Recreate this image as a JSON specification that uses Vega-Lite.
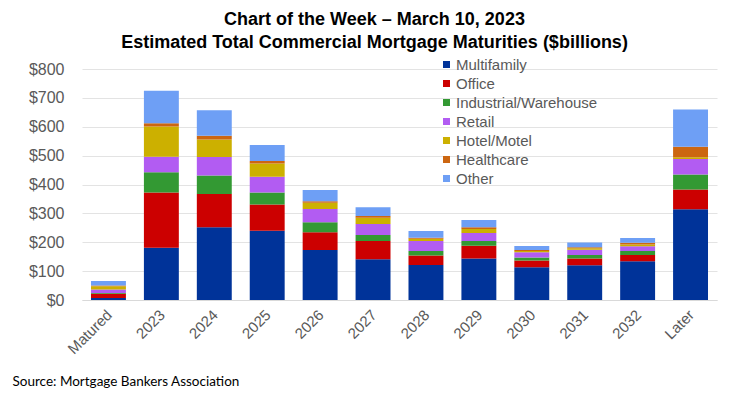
{
  "$schema": "https://vega.github.io/schema/vega-lite/v6.json",
  "width": 635,
  "height": 231,
  "autosize": {"type": "none"},
  "padding": {"left": 82, "top": 69, "right": 14, "bottom": 96},
  "background": "white",
  "title": {
    "text": ["Chart of the Week – March 10, 2023", "Estimated Total Commercial Mortgage Maturities ($billions)"],
    "font": "Liberation Sans",
    "fontSize": 18,
    "fontWeight": "bold",
    "color": "#000000",
    "anchor": "middle",
    "frame": "group",
    "dx": -25,
    "offset": 5,
    "lineHeight": 23
  },
  "data": {
    "values": [
      {"year": "Matured", "type": "Multifamily", "k": 1, "value": 7},
      {"year": "Matured", "type": "Office", "k": 2, "value": 15},
      {"year": "Matured", "type": "Industrial/Warehouse", "k": 3, "value": 2},
      {"year": "Matured", "type": "Retail", "k": 4, "value": 12},
      {"year": "Matured", "type": "Hotel/Motel", "k": 5, "value": 12},
      {"year": "Matured", "type": "Healthcare", "k": 6, "value": 2},
      {"year": "Matured", "type": "Other", "k": 7, "value": 16},
      {"year": "2023", "type": "Multifamily", "k": 1, "value": 181},
      {"year": "2023", "type": "Office", "k": 2, "value": 191},
      {"year": "2023", "type": "Industrial/Warehouse", "k": 3, "value": 70},
      {"year": "2023", "type": "Retail", "k": 4, "value": 54},
      {"year": "2023", "type": "Hotel/Motel", "k": 5, "value": 105},
      {"year": "2023", "type": "Healthcare", "k": 6, "value": 11},
      {"year": "2023", "type": "Other", "k": 7, "value": 113},
      {"year": "2024", "type": "Multifamily", "k": 1, "value": 252},
      {"year": "2024", "type": "Office", "k": 2, "value": 115},
      {"year": "2024", "type": "Industrial/Warehouse", "k": 3, "value": 64},
      {"year": "2024", "type": "Retail", "k": 4, "value": 64},
      {"year": "2024", "type": "Hotel/Motel", "k": 5, "value": 61},
      {"year": "2024", "type": "Healthcare", "k": 6, "value": 13},
      {"year": "2024", "type": "Other", "k": 7, "value": 88},
      {"year": "2025", "type": "Multifamily", "k": 1, "value": 240},
      {"year": "2025", "type": "Office", "k": 2, "value": 91},
      {"year": "2025", "type": "Industrial/Warehouse", "k": 3, "value": 41},
      {"year": "2025", "type": "Retail", "k": 4, "value": 55},
      {"year": "2025", "type": "Hotel/Motel", "k": 5, "value": 46},
      {"year": "2025", "type": "Healthcare", "k": 6, "value": 8},
      {"year": "2025", "type": "Other", "k": 7, "value": 56},
      {"year": "2026", "type": "Multifamily", "k": 1, "value": 173},
      {"year": "2026", "type": "Office", "k": 2, "value": 62},
      {"year": "2026", "type": "Industrial/Warehouse", "k": 3, "value": 34},
      {"year": "2026", "type": "Retail", "k": 4, "value": 46},
      {"year": "2026", "type": "Hotel/Motel", "k": 5, "value": 22},
      {"year": "2026", "type": "Healthcare", "k": 6, "value": 5},
      {"year": "2026", "type": "Other", "k": 7, "value": 39},
      {"year": "2027", "type": "Multifamily", "k": 1, "value": 141},
      {"year": "2027", "type": "Office", "k": 2, "value": 63},
      {"year": "2027", "type": "Industrial/Warehouse", "k": 3, "value": 21},
      {"year": "2027", "type": "Retail", "k": 4, "value": 38},
      {"year": "2027", "type": "Hotel/Motel", "k": 5, "value": 22},
      {"year": "2027", "type": "Healthcare", "k": 6, "value": 6},
      {"year": "2027", "type": "Other", "k": 7, "value": 30},
      {"year": "2028", "type": "Multifamily", "k": 1, "value": 121},
      {"year": "2028", "type": "Office", "k": 2, "value": 33},
      {"year": "2028", "type": "Industrial/Warehouse", "k": 3, "value": 16},
      {"year": "2028", "type": "Retail", "k": 4, "value": 34},
      {"year": "2028", "type": "Hotel/Motel", "k": 5, "value": 8},
      {"year": "2028", "type": "Healthcare", "k": 6, "value": 4},
      {"year": "2028", "type": "Other", "k": 7, "value": 23},
      {"year": "2029", "type": "Multifamily", "k": 1, "value": 144},
      {"year": "2029", "type": "Office", "k": 2, "value": 44},
      {"year": "2029", "type": "Industrial/Warehouse", "k": 3, "value": 16},
      {"year": "2029", "type": "Retail", "k": 4, "value": 28},
      {"year": "2029", "type": "Hotel/Motel", "k": 5, "value": 14},
      {"year": "2029", "type": "Healthcare", "k": 6, "value": 6},
      {"year": "2029", "type": "Other", "k": 7, "value": 25},
      {"year": "2030", "type": "Multifamily", "k": 1, "value": 113},
      {"year": "2030", "type": "Office", "k": 2, "value": 24},
      {"year": "2030", "type": "Industrial/Warehouse", "k": 3, "value": 10},
      {"year": "2030", "type": "Retail", "k": 4, "value": 18},
      {"year": "2030", "type": "Hotel/Motel", "k": 5, "value": 5},
      {"year": "2030", "type": "Healthcare", "k": 6, "value": 3},
      {"year": "2030", "type": "Other", "k": 7, "value": 14},
      {"year": "2031", "type": "Multifamily", "k": 1, "value": 120},
      {"year": "2031", "type": "Office", "k": 2, "value": 24},
      {"year": "2031", "type": "Industrial/Warehouse", "k": 3, "value": 12},
      {"year": "2031", "type": "Retail", "k": 4, "value": 18},
      {"year": "2031", "type": "Hotel/Motel", "k": 5, "value": 5},
      {"year": "2031", "type": "Healthcare", "k": 6, "value": 4},
      {"year": "2031", "type": "Other", "k": 7, "value": 16},
      {"year": "2032", "type": "Multifamily", "k": 1, "value": 134},
      {"year": "2032", "type": "Office", "k": 2, "value": 22},
      {"year": "2032", "type": "Industrial/Warehouse", "k": 3, "value": 14},
      {"year": "2032", "type": "Retail", "k": 4, "value": 16},
      {"year": "2032", "type": "Hotel/Motel", "k": 5, "value": 6},
      {"year": "2032", "type": "Healthcare", "k": 6, "value": 6},
      {"year": "2032", "type": "Other", "k": 7, "value": 17},
      {"year": "Later", "type": "Multifamily", "k": 1, "value": 314},
      {"year": "Later", "type": "Office", "k": 2, "value": 69},
      {"year": "Later", "type": "Industrial/Warehouse", "k": 3, "value": 52},
      {"year": "Later", "type": "Retail", "k": 4, "value": 53},
      {"year": "Later", "type": "Hotel/Motel", "k": 5, "value": 6},
      {"year": "Later", "type": "Healthcare", "k": 6, "value": 37},
      {"year": "Later", "type": "Other", "k": 7, "value": 129}
    ]
  },
  "mark": {"type": "bar"},
  "encoding": {
    "x": {
      "field": "year",
      "type": "nominal",
      "sort": null,
      "scale": {"paddingInner": 0.34, "paddingOuter": 0.17},
      "axis": {
        "title": "Source: Mortgage Bankers Association",
        "titleFont": "Lato",
        "titleFontSize": 13.5,
        "titleFontWeight": "normal",
        "titleColor": "#000000",
        "titleAnchor": "start",
        "titleAlign": "left",
        "titleBaseline": "alphabetic",
        "titleX": -70,
        "titleY": 85,
        "labelAngle": -45,
        "labelAlign": "right",
        "labelBaseline": "middle",
        "labelFont": "Liberation Sans",
        "labelFontSize": 15,
        "labelColor": "#595959",
        "labelPadding": 12,
        "labelOffset": 1,
        "ticks": false,
        "domain": true,
        "domainColor": "#d9d9d9",
        "grid": false
      }
    },
    "y": {
      "field": "value",
      "type": "quantitative",
      "stack": "zero",
      "scale": {"domain": [0, 800], "nice": false},
      "axis": {
        "title": null,
        "values": [0, 100, 200, 300, 400, 500, 600, 700, 800],
        "labelExpr": "'$' + datum.label",
        "labelFont": "Liberation Sans",
        "labelFontSize": 16,
        "labelColor": "#595959",
        "labelPadding": 18,
        "ticks": false,
        "domain": false,
        "grid": true,
        "gridColor": "#e3e3e3"
      }
    },
    "color": {
      "field": "type",
      "type": "nominal",
      "scale": {
        "domain": ["Multifamily", "Office", "Industrial/Warehouse", "Retail", "Hotel/Motel", "Healthcare", "Other"],
        "range": ["#003399", "#cc0000", "#339933", "#b25cf2", "#ccb000", "#cc6611", "#6e9ff5"]
      },
      "legend": {
        "title": null,
        "orient": "none",
        "legendX": 357,
        "legendY": -12,
        "symbolType": "square",
        "symbolSize": 49,
        "symbolStrokeWidth": 0,
        "labelFont": "Liberation Sans",
        "labelFontSize": 15,
        "labelColor": "#595959",
        "labelOffset": 2,
        "rowPadding": 3
      }
    },
    "order": {"field": "k", "type": "quantitative", "sort": "ascending"}
  },
  "config": {"view": {"stroke": null}}
}
